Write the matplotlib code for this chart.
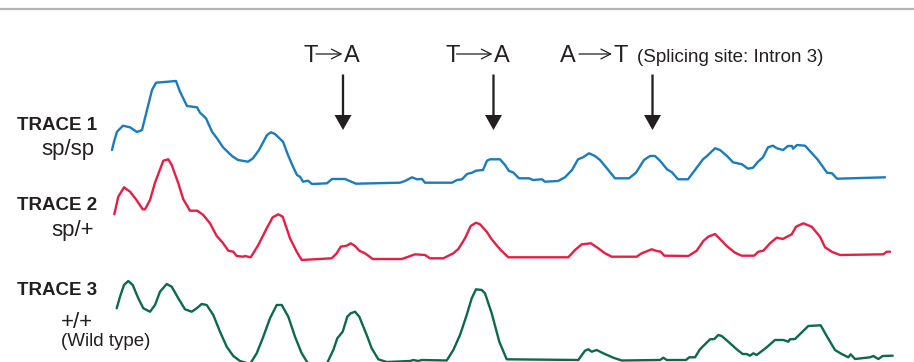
import matplotlib
matplotlib.use("Agg")
import matplotlib.pyplot as plt

plt.rcParams['font.family'] = ['Liberation Sans', 'DejaVu Sans']

# ---- data (position along read, signal height) ----
trace1_x = [112, 114, 117, 123, 130, 137, 142, 147, 152, 156,
            176, 180, 187, 197, 200, 206, 212, 217, 223, 232,
            238, 248, 253, 259, 267, 271, 275, 283, 288, 293,
            297, 300, 303, 308, 312, 327, 332, 345, 356, 400,
            405, 412, 417, 422, 425, 452, 457, 462, 467, 472,
            476, 483, 487, 490, 500, 505, 509, 513, 519, 529,
            533, 542, 545, 558, 565, 572, 578, 583, 589, 595,
            600, 605, 615, 629, 636, 644, 650, 655, 660, 667,
            672, 678, 688, 697, 703, 707, 715, 720, 727, 733,
            742, 748, 753, 758, 763, 768, 773, 777, 783, 788,
            792, 793, 797, 805, 812, 818, 827, 832, 837, 885]
trace1_y = [33.5, 41.8, 51.8, 57.8, 56.2, 51.5, 53.5, 73.5, 93.5, 100.8,
            102.5, 91.8, 77.5, 76.2, 70.8, 65.2, 51.8, 45.2, 36.2, 27.5,
            23.5, 21.8, 25.2, 33.5, 48.5, 51.2, 49.5, 41.8, 28.5, 16.8,
            8.5, 6.8, 1.8, 2.8, -0.5, 0.2, 4.5, 4.5, -0.2, 0.8,
            2.5, 6.2, 4.2, 4.5, 0.8, 0.8, 3.5, 4.2, 9.5, 10.8,
            12.8, 13.5, 22.8, 24.2, 24.2, 18.5, 12.5, 11.2, 5.2, 5.2,
            3.5, 4.2, 1.8, 2.5, 6.2, 13.5, 24.2, 26.2, 30.2, 27.5,
            23.5, 17.5, 5.2, 5.2, 10.8, 23.5, 27.5, 27.5, 22.8, 14.2,
            11.2, 4.2, 4.2, 16.2, 24.2, 27.5, 35.2, 33.5, 27.5, 21.2,
            19.2, 14.8, 15.8, 21.8, 26.2, 36.2, 37.8, 35.2, 33.5, 37.5,
            37.5, 34.8, 38.5, 37.8, 30.2, 23.5, 10.8, 10.2, 4.8, 6.2]

trace2_x = [114.3, 118.3, 124, 130, 136, 142.7, 145, 150, 155, 163.3,
            168.3, 171.7, 178.3, 183.3, 190, 197.3, 203.3, 210, 216.7, 222.7,
            228.3, 233.3, 236.7, 243.3, 245, 250.7, 258.3, 266.7, 272.7, 278.3,
            282.7, 290, 296.7, 301.7, 331.7, 336.7, 340.7, 346.7, 350.7, 355,
            359.3, 365, 372.7, 401.7, 406.7, 415, 425, 430, 443.3, 453.3,
            458.3, 465, 470.7, 476, 480, 486.7, 491.7, 500, 508.3, 568.3,
            575, 581.7, 591, 598.3, 605, 611.7, 636.7, 641.7, 651.7, 656.7,
            660.7, 664.3, 688.3, 696.7, 703.3, 708.3, 715, 719.3, 726.7, 735,
            741.7, 754, 758.3, 763.3, 770, 776.7, 782.7, 791.7, 796, 803.3,
            811.7, 820, 825, 831.7, 840, 883.3, 886.7, 890]
trace2_y = [44.7, 62.3, 71.7, 67.3, 59.7, 49.7, 49.7, 59, 76.3, 98.3,
            99.7, 94, 75.7, 59.7, 48.3, 48.3, 44, 35.7, 23, 16.3,
            8.3, 7.3, 3, 2.3, 3, 1.7, 14, 30.7, 41.7, 44.7,
            42.3, 20.7, 7.3, -1, 0.7, 5.7, 12.3, 13.3, 15.7, 13,
            8.3, 5.7, 0, 0, 1.7, 4.7, 4, 0.7, 0.7, 5.7,
            10, 20.7, 33, 36.3, 34.7, 27.3, 19.7, 9.7, 1.7, 1.7,
            9, 14.7, 15.7, 10.7, 5.7, 2.3, 2.3, 5.7, 9.7, 8,
            7.3, 3.3, 3, 8.3, 18, 22.3, 25, 20.7, 13, 6.3,
            3.3, 3.3, 7.3, 8.3, 15.7, 21.3, 20, 24.7, 32.3, 35.7,
            32.3, 22.3, 11.7, 7.3, 4, 4.7, 7.3, 7.3]

trace3_x = [116.7, 120, 124, 128.3, 132.7, 138.3, 143.3, 150, 155, 160,
            166.7, 171.7, 178.3, 185, 191.7, 196.7, 201.7, 206.7, 213.3, 220,
            226.7, 233.3, 240, 250, 256.7, 263.3, 270, 276.7, 281.7, 288.3,
            295, 301.7, 308.3, 326.7, 333.3, 337.3, 342.7, 347.3, 350.7, 355,
            359.3, 366.7, 371.7, 378.3, 386.7, 410, 413.3, 418.3, 421.7, 446.7,
            453.3, 460, 466.7, 471.7, 476, 481.7, 485, 491.7, 499.3, 506.7,
            578.3, 585, 588.3, 591.7, 596.7, 603.3, 613.3, 621.7, 660, 663.3,
            666.7, 686, 689.3, 695, 700, 710, 714.3, 718.3, 721.7, 728.3,
            736.7, 742.7, 746.7, 750, 753.3, 756.7, 766.7, 775, 783.3, 788.3,
            790, 795, 808.3, 820.7, 826.7, 835, 841.7, 848.3, 850.7, 855,
            870, 873.3, 878.3, 882.7, 892.7]
trace3_y = [52.7, 64.3, 76, 80, 76, 62.7, 52.7, 49.3, 56, 69.3,
            77, 74.3, 62.7, 51.7, 49.3, 52.7, 57, 56, 46, 29.3,
            14.3, 5, 0, -3, 7.7, 24.3, 42.7, 56, 56, 44.3,
            24.3, 7.7, -3, -3, 11, 22.7, 29.3, 44.3, 47.7, 49.3,
            44.3, 26, 12.7, 1.7, -1, 0, 1, 0, 1, 0.5,
            11, 26, 46, 62.7, 71.7, 71, 67.7, 47.7, 19.3, 1.7,
            1, 10.3, 11.7, 9.3, 11, 7.7, 3.3, 0.5, 1, 3.3,
            1, 1, 3.7, 3.7, 11.7, 21.7, 22, 26, 25, 19.3,
            11.7, 7, 7, 5.3, 7.7, 6, 13.7, 21, 21, 19.3,
            21.7, 22, 35, 35.7, 25, 11, 7, 3.7, 6.7, 2,
            3.7, 5, 2, 5, 5.3]

trace_names = ["TRACE 1", "TRACE 2", "TRACE 3"]
genotypes = ["sp/sp", "sp/+", "+/+"]
mutation_pos = [343, 493.5, 652.5]
mutation_from = ["T", "T", "A"]
mutation_to = ["A", "A", "T"]

# ---- layout / style ----
W, H = 914, 362
offsets = [178.5, 103, 1]
colors = ["#1a7bbf", "#e91d41", "#0a6a4a"]
ink = "#231f20"

fig = plt.figure(figsize=(W / 100, H / 100), dpi=100)
ax = fig.add_axes([0, 0, 1, 1])
ax.set_xlim(0, W)
ax.set_ylim(0, H)
ax.axis("off")

# grey rule at the top
ax.axhline(H - 9, color="#b4b4b4", lw=1.6)

traces = [(trace1_x, trace1_y), (trace2_x, trace2_y), (trace3_x, trace3_y)]
for (xs, ys), off, c in zip(traces, offsets, colors):
    ax.plot(xs, [off + v for v in ys], color=c, lw=1.7,
            solid_joinstyle="round", solid_capstyle="round")

# left-hand labels
name_base = [H - 129.5, H - 210, H - 295]
geno_base = [H - 155.5, H - 236]
for name, yb in zip(trace_names, name_base):
    ax.text(97, yb, name, ha="right", va="baseline", fontsize=13.5,
            fontweight="bold", color=ink)
for g, yb in zip(genotypes[:2], geno_base):
    ax.text(94, yb, g, ha="right", va="baseline", fontsize=16, color=ink)
ax.text(61, H - 328.5, genotypes[2], ha="left", va="baseline", fontsize=16, color=ink)
ax.text(61, H - 345.5, "(Wild type)", ha="left", va="baseline", fontsize=13.5, color=ink)

# mutation annotations
label_base = H - 62
arrow_y = H - 54
groups = [(303.5, 316, 342.5, 343.5), (445.5, 456.5, 492.5, 493.5), (559.5, 579, 612, 613)]
for (tx, ls, le, ax2), a, b in zip(groups, mutation_from, mutation_to):
    ax.text(tx, label_base, a, ha="left", va="baseline", fontsize=17, color=ink)
    ax.text(ax2, label_base, b, ha="left", va="baseline", fontsize=17, color=ink)
    ax.annotate("", xy=(le, arrow_y), xytext=(ls, arrow_y),
                arrowprops=dict(arrowstyle="->,head_length=0.7,head_width=0.35",
                                lw=0.9, color=ink, shrinkA=0, shrinkB=0))
ax.text(637, label_base, "(Splicing site: Intron 3)", ha="left", va="baseline",
        fontsize=13.5, color=ink)

for x in mutation_pos:
    ax.arrow(x, H - 74.5, 0, -(130 - 74.5), width=2.3, head_width=17,
             head_length=15, length_includes_head=True, color=ink, lw=0)

fig.savefig("out.png", dpi=100)
